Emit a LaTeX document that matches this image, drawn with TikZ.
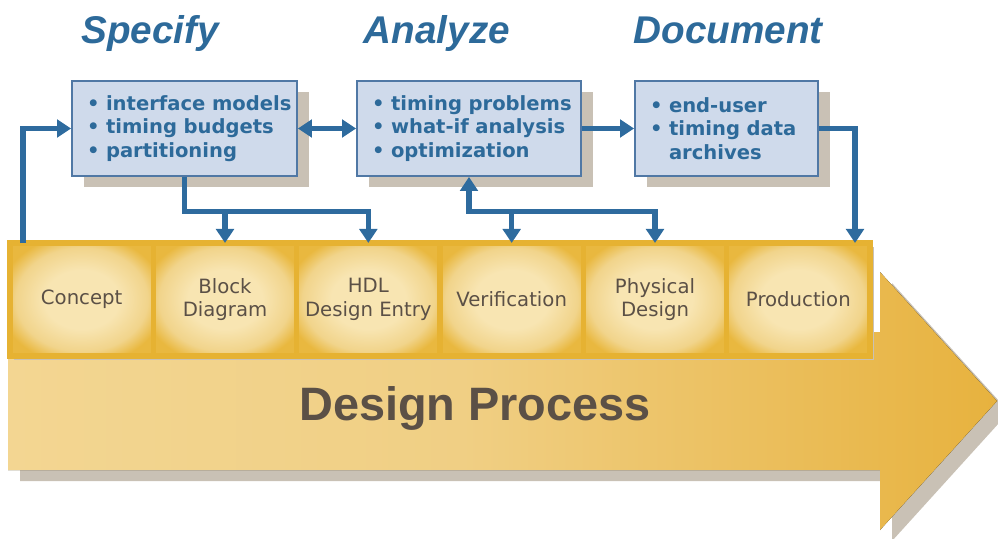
\documentclass[tikz,border=0pt]{standalone}
\usepackage{fontspec}
\setmainfont{DejaVu Sans}
\newfontfamily\arialfont{Liberation Sans}
\usepackage{tikz}
\usetikzlibrary{positioning, arrows.meta, calc, shadows}
\usepackage{xcolor}
\definecolor{procblue}{HTML}{2D6A9A}
\definecolor{connblue}{HTML}{2E6B9E}
\definecolor{boxfill}{HTML}{CFDAEB}
\definecolor{boxedge}{HTML}{5078A5}
\definecolor{shadowgray}{HTML}{C9C1B5}
\definecolor{stagelight}{HTML}{F8E5B2}
\definecolor{stagemid}{HTML}{F1D48B}
\definecolor{stagedark}{HTML}{E9B83F}
\definecolor{stageedge}{HTML}{E6B232}
\definecolor{stagetext}{HTML}{5B5046}
\definecolor{bodylight}{HTML}{F3D692}
\definecolor{bodymid}{HTML}{F0CF84}
\definecolor{bodydark}{HTML}{E7B23E}
\pgfdeclareradialshading{stageshade}{\pgfpoint{0bp}{0bp}}{color(0bp)=(stagelight); color(13bp)=(stagelight); color(23bp)=(stagemid); color(29bp)=(stagedark); color(50bp)=(stagedark)}
\pgfdeclarehorizontalshading{bodyshade}{100bp}{color(0bp)=(bodylight); color(25bp)=(bodylight); color(48bp)=(bodymid); color(75bp)=(bodydark); color(100bp)=(bodydark)}

\begin{document}
\begin{tikzpicture}[x=0.3mm, y=-0.3mm,
		>={Triangle[length=12pt, width=15pt]},
		conn/.style={draw=connblue, line width=4.3pt, ->},
		infobox/.style={draw=boxedge, line width=1.6pt, fill=boxfill, minimum height=28.5mm, inner xsep=4.5mm, align=left, text=procblue, font=\bfseries\fontsize{16.7}{20}\selectfont, execute at begin node={\hyphenpenalty=10000\exhyphenpenalty=10000}, copy shadow={shadow xshift=3.6mm, shadow yshift=-3.3mm, fill=shadowgray, draw=none}},
		stagebox/.style={draw=stageedge, line width=4.5pt, shading=stageshade, minimum width=43mm, minimum height=33.9mm, outer sep=0pt, align=center, text=stagetext, font=\fontsize{16.8}{20}\selectfont},
		heading/.style={text=procblue, font=\arialfont\bfseries\itshape\fontsize{33}{36}\selectfont, anchor=base}]
	\useasboundingbox (0,0) rectangle (998,539);
	
	% big arrow with its shadow
	\fill[shadowgray] (20,343) -- (892,343) -- (892,283) -- (1009,412) -- (892,541) -- (892,481) -- (20,481) -- cycle;
	\fill[shading=bodyshade] (8,332) -- (880,332) -- (880,272) -- (997,401) -- (880,530) -- (880,470) -- (8,470) -- cycle;
	\node[text=stagetext, font=\arialfont\bfseries\fontsize{40}{44}\selectfont, anchor=base] (process) at (475,420) {Design Process};
	
	% stages
	\fill[shadowgray] (14,247) rectangle (874,360);
	\node[stagebox, anchor=north west] (concept) at (10,243) {Concept};
	\node[stagebox, right=0pt of concept] (block) {Block\\Diagram};
	\node[stagebox, right=0pt of block] (hdl) {HDL\\Design Entry};
	\node[stagebox, right=0pt of hdl] (verif) {Verification};
	\node[stagebox, right=0pt of verif] (phys) {Physical\\Design};
	\node[stagebox, right=0pt of phys] (prod) {Production};
	
	% activities
	\node[heading] (specify) at (150,43) {Specify};
	\node[heading] (analyze) at (437,43) {Analyze};
	\node[heading] (document) at (728,43) {Document};
	
	\node[infobox, text width=58.5mm] (spec) at (184.5,128.5) {\textbullet~interface~models\\\textbullet~timing~budgets\\\textbullet~partitioning};
	\node[infobox, text width=58.2mm] (anal) at (469,128.5) {\textbullet~timing~problems\\\textbullet~what-if~analysis\\\textbullet~optimization};
	\node[infobox, text width=45.9mm] (doc) at (726.5,128.5) {\textbullet~end-user\\\textbullet~timing~data\\\hphantom{\textbullet~}archives};
	
	% connectors
	\coordinate (cin) at ($(concept.north west)+(13,0)$);
	\coordinate (pin) at ($(prod.north east)+(-15,0)$);
	\coordinate (fork1) at ($(spec.south)+(0,35)$);
	\coordinate (fork2) at ($(anal.south)+(0,35)$);
	
	\draw[conn] (cin) |- (spec.west);
	\draw[conn, <->] (spec.east) -- (anal.west);
	\draw[conn] (anal.east) -- (doc.west);
	\draw[conn] (doc.east) -| (pin);
	\draw[conn] (spec.south) -- (fork1) -| (hdl.north);
	\draw[conn] (fork1 -| block.north) -- (block.north);
	\draw[conn, <->] (anal.south) -- (fork2) -| (phys.north);
	\draw[conn] (fork2 -| verif.north) -- (verif.north);
\end{tikzpicture}
\end{document}
